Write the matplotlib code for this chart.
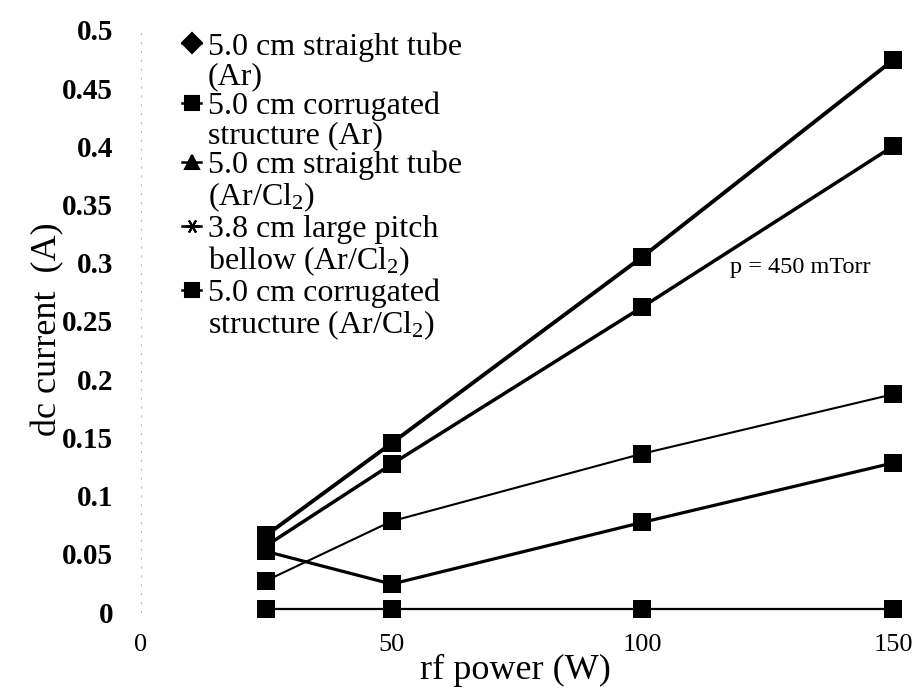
import matplotlib
matplotlib.use("Agg")
import matplotlib.pyplot as plt
from matplotlib.lines import Line2D

# rf power settings (W)
power = [25, 50, 100, 150]

# dc current (A) for each configuration
straight_ar = [0.066, 0.145, 0.305, 0.474]
corrugated_ar = [0.057, 0.127, 0.262, 0.400]
straight_arcl2 = [0.027, 0.078, 0.136, 0.187]
bellow_arcl2 = [0.052, 0.024, 0.077, 0.128]
corrugated_arcl2 = [0.003, 0.003, 0.003, 0.003]

series_values = [straight_ar, corrugated_ar, straight_arcl2, bellow_arcl2, corrugated_arcl2]
series_widths = [2.8, 2.5, 1.5, 2.3, 1.6]

legend_lines = [
    ("5.0 cm straight tube", "(Ar)"),
    ("5.0 cm corrugated", "structure (Ar)"),
    ("5.0 cm straight tube", r"(Ar/Cl$_{2}$)"),
    ("3.8 cm large pitch", r"bellow (Ar/Cl$_{2}$)"),
    ("5.0 cm corrugated", r"structure (Ar/Cl$_{2}$)"),
]
legend_markers = ["D", "s", "^", (6, 2, 30), "s"]

y_ticks = [0, 0.05, 0.1, 0.15, 0.2, 0.25, 0.3, 0.35, 0.4, 0.45, 0.5]
y_tick_labels = ["0", "0.05", "0.1", "0.15", "0.2", "0.25", "0.3", "0.35", "0.4", "0.45", "0.5"]
x_ticks = [0, 50, 100, 150]
x_tick_labels = ["0", "50", "100", "150"]

plt.rcParams["font.family"] = ["Liberation Serif", "DejaVu Serif"]
plt.rcParams["mathtext.fontset"] = "custom"
plt.rcParams["mathtext.rm"] = "Liberation Serif"
plt.rcParams["mathtext.it"] = "Liberation Serif:italic"
plt.rcParams["mathtext.bf"] = "Liberation Serif:bold"

fig = plt.figure(figsize=(9.16, 6.95), dpi=100)
ax = fig.add_axes([0.1539, 0.1194, 0.8210, 0.8376])

for vals, lw in zip(series_values, series_widths):
    ax.plot(power, vals, color="black", linewidth=lw, marker="s",
            markersize=13, markeredgewidth=0, clip_on=False, zorder=3)

ax.set_xlim(0, 150)
ax.set_ylim(0, 0.5)
ax.set_xticks(x_ticks)
ax.set_xticklabels(x_tick_labels, fontsize=19)
ax.set_yticks(y_ticks)
ax.set_yticklabels(y_tick_labels, fontsize=21, fontweight="bold")
ax.tick_params(axis="both", length=0)
ax.tick_params(axis="y", pad=20)
ax.tick_params(axis="x", pad=16)

for side in ("top", "right", "bottom"):
    ax.spines[side].set_visible(False)
ax.spines["left"].set_color("#b8b8b8")
ax.spines["left"].set_linestyle((0, (1, 7)))
ax.spines["left"].set_linewidth(0.8)

ax.set_xlabel("rf power (W)", fontsize=26)
ax.set_ylabel("dc current  (A)", fontsize=26)
ax.xaxis.set_label_coords(0.498, -0.1)
ax.xaxis.label.set_va("center")
ax.yaxis.set_label_coords(-0.124, 0.485)
ax.yaxis.label.set_va("center")

ax.text(131.5, 0.2955, "p = 450 mTorr", fontsize=17.5, ha="center", va="center")

# two-row legend entries: marker on the first row, continuation text below
handles, labels = [], []
for (first, second), mk in zip(legend_lines, legend_markers):
    handles.append(Line2D([], [], color="black", linewidth=1.8, marker=mk,
                          markersize=10, markeredgewidth=1.5))
    labels.append(first)
    handles.append(Line2D([], [], linestyle="none"))
    labels.append(second)

leg = ax.legend(handles, labels, loc="upper left",
                bbox_to_anchor=(182 / 916, 1 - 32 / 695),
                bbox_transform=fig.transFigure, frameon=False,
                fontsize=23, labelspacing=0.01, handlelength=0.6,
                handletextpad=0.2, borderpad=0, borderaxespad=0)

fig.savefig("out.png", dpi=100, facecolor="white")
